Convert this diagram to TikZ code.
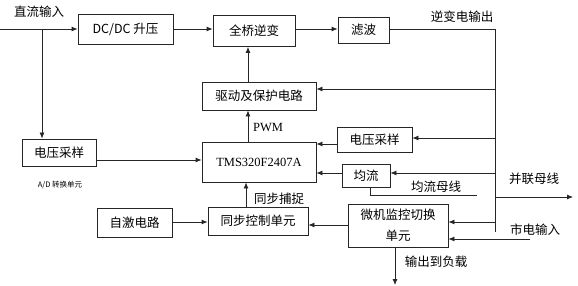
\documentclass[tikz,border=0pt]{standalone}
\usepackage{fontspec}
\setmainfont{Noto Sans CJK SC}
\newfontfamily\serifl{Liberation Serif}
\usetikzlibrary{arrows.meta}
\tikzset{
  blk/.style={draw=black!85, line width=0.8pt, inner sep=0pt, align=center,
    font=\fontsize{12.5}{16}\selectfont},
  lbl/.style={inner sep=0pt, font=\fontsize{12.5}{15}\selectfont},
  ln/.style={draw=black!85, line width=0.8pt},
  arr/.style={ln, -{Latex[length=6pt,width=5pt]}}
}
\begin{document}
\begin{tikzpicture}[x=1pt,y=-1pt]
\useasboundingbox[fill=white] (0,0) rectangle (578,286);
% boxes
\node[blk, minimum width=95pt, minimum height=30pt] (dcdc) at (125.5,29) {DC/DC 升压};
\node[blk, minimum width=82pt, minimum height=31pt] (qq) at (254,31) {全桥逆变};
\node[blk, minimum width=51pt, minimum height=26pt] (lb) at (363.5,30) {滤波};
\node[blk, minimum width=114pt, minimum height=28pt] (qd) at (259,96) {驱动及保护电路};
\node[blk, minimum width=114pt, minimum height=40pt, font=\serifl\fontsize{12.5}{15}\selectfont] (tms) at (259,162) {TMS320F2407A};
\node[blk, minimum width=74pt, minimum height=27pt] (vsa) at (59,152.5) {电压采样};
\node[blk, minimum width=75pt, minimum height=25pt] (vsb) at (374.5,139.5) {电压采样};
\node[blk, minimum width=48pt, minimum height=23pt] (jl) at (366,175.5) {均流};
\node[blk, minimum width=75pt, minimum height=29pt] (zj) at (134.5,222.5) {自激电路};
\node[blk, minimum width=100pt, minimum height=28pt] (tb) at (258,221) {同步控制单元};
\node[blk, minimum width=100pt, minimum height=43pt, font=\fontsize{12.5}{21}\selectfont] (wj) at (398,225.5) {微机监控切换\\单元};
% free coordinates
\coordinate (in) at (0,29);
\coordinate (br) at (42,29);
\coordinate (bus) at (495,29);
\coordinate (busend) at (495,232);
\coordinate (jlb) at (370,195);
\coordinate (jle) at (477,195);
\coordinate (pout) at (573,197);
\coordinate (mains) at (530,239);
\coordinate (load) at (395,285);
% labels
\node[lbl] (t1) at (39,12) {直流输入};
\node[lbl] (t2) at (462,17) {逆变电输出};
\node[lbl, font=\serifl\fontsize{12.5}{15}\selectfont] (t3) at (268,128) {PWM};
\node[lbl, font=\fontsize{7.5}{9}\selectfont] (t4) at (60,185) {A/D 转换单元};
\node[lbl] (t5) at (279,199) {同步捕捉};
\node[lbl] (t6) at (436,187) {均流母线};
\node[lbl] (t7) at (534,179) {并联母线};
\node[lbl] (t8) at (535,230) {市电输入};
\node[lbl] (t9) at (436,262) {输出到负载};
% connectors
\draw[arr] (in) -- (dcdc.west |- in);
\draw[arr] (br) -- (br |- vsa.north);
\draw[arr] (dcdc.east |- in) -- (qq.west |- in);
\draw[arr] (qq.east |- in) -- (lb.west |- in);
\draw[ln] (lb.east |- in) -- (bus) -- (busend);
\draw[arr] (495,89) -- (qd.east |- 0,89);
\draw[arr] (248,82) -- (qq.south -| 248,0);
\draw[arr] (tms.north -| 248,0) -- (qd.south -| 248,0);
\draw[arr] (vsa.east |- 0,160) -- (tms.west |- 0,160);
\draw[arr] (495,138) -- (vsb.east |- 0,138);
\draw[arr] (vsb.west |- 0,144) -- (tms.east |- 0,144);
\draw[arr] (495,173) -- (jl.east |- 0,173);
\draw[arr] (jl.west |- 0,173) -- (tms.east |- 0,173);
\draw[ln] (jl.south -| jlb) -- (jlb) -- (jle);
\draw[arr] (495,197) -- (pout);
\draw[arr] (zj.east |- 0,222) -- (tb.west |- 0,222);
\draw[arr] (tb.north -| 246,0) -- (tms.south -| 246,0);
\draw[arr] (wj.west |- 0,225) -- (tb.east |- 0,225);
\draw[arr] (495,222) -- (wj.east |- 0,222);
\draw[arr] (mains) -- (wj.east |- mains);
\draw[arr] (wj.south -| load) -- (load);
\end{tikzpicture}
\end{document}
